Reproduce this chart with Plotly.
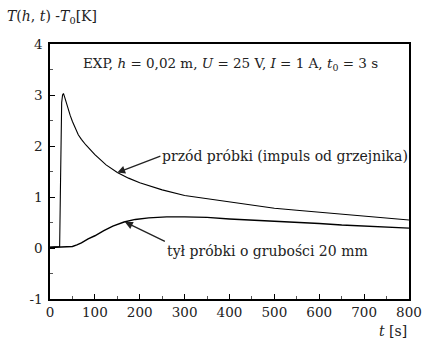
import plotly.graph_objects as go

# front of sample (heater impulse)
t_front = [0, 10, 20, 21.5, 23, 24.5, 26, 28, 30, 33, 36, 40, 45, 50, 56, 63, 70, 80, 100,
           125, 150, 175, 200, 250, 300, 350, 400, 450, 500, 550, 600, 650, 700, 750, 800]
T_front = [0.02, 0.02, 0.02, 0.03, 1.0, 2.2, 2.85, 3.0, 3.03, 2.95, 2.85, 2.74, 2.6, 2.48,
           2.35, 2.22, 2.13, 2.02, 1.83, 1.63, 1.48, 1.37, 1.28, 1.14, 1.03, 0.97, 0.91,
           0.84, 0.78, 0.74, 0.70, 0.66, 0.62, 0.58, 0.55]

# back of sample, 20 mm thick
t_back = [0, 20, 40, 50, 60, 70, 85, 100, 120, 140, 165, 190, 220, 260, 300, 350, 400,
          450, 500, 550, 600, 650, 700, 750, 800]
T_back = [0.01, 0.02, 0.02, 0.03, 0.06, 0.1, 0.18, 0.24, 0.34, 0.43, 0.51, 0.56, 0.59,
          0.61, 0.61, 0.6, 0.57, 0.55, 0.52, 0.5, 0.48, 0.45, 0.43, 0.41, 0.39]

x_ticks = [0, 100, 200, 300, 400, 500, 600, 700, 800]
y_ticks = [-1, 0, 1, 2, 3, 4]
y_tick_text = ["-1", "0", "1", "2", "3", "4"]

FONT = "DejaVu Serif"

fig = go.Figure()
fig.add_trace(go.Scatter(x=t_front, y=T_front, mode="lines",
                         line=dict(color="black", width=1.1), showlegend=False))
fig.add_trace(go.Scatter(x=t_back, y=T_back, mode="lines",
                         line=dict(color="black", width=1.4), showlegend=False))

axis_common = dict(showgrid=False, zeroline=False, ticks="inside", ticklen=5,
                   tickcolor="black", tickwidth=1.3, showline=True, linecolor="black",
                   linewidth=1.5, mirror=True,
                   tickfont=dict(family=FONT, size=13.5, color="#222"))

fig.update_xaxes(range=[0, 800], tickvals=x_ticks,
                 minor=dict(dtick=50, ticklen=3, ticks="inside", tickcolor="#555", tickwidth=1),
                 **axis_common)
fig.update_yaxes(range=[-1, 4], tickvals=y_ticks, ticktext=y_tick_text, ticklabelstandoff=3,
                 minor=dict(dtick=0.5, ticklen=3, ticks="inside", tickcolor="#555", tickwidth=1),
                 **axis_common)

ann_font = dict(family=FONT, size=14, color="#222")
fig.add_annotation(xref="paper", yref="paper", x=-0.125, y=1.105, xanchor="left",
                   yanchor="middle", showarrow=False, font=ann_font,
                   text="<i>T</i>(<i>h</i>, <i>t</i>) -<i>T</i><sub>0</sub>[K]")
fig.add_annotation(xref="paper", yref="paper", x=1.0, y=-0.125, xanchor="right",
                   yanchor="middle", showarrow=False, font=ann_font,
                   text="<i>t</i> [s]")
fig.add_annotation(x=70, y=3.6, xanchor="left", yanchor="middle", showarrow=False,
                   font=dict(family=FONT, size=13.5, color="#222"),
                   text="EXP, <i>h</i> = 0,02 m, <i>U</i> = 25 V, <i>I</i> = 1 A, <i>t</i><sub>0</sub> = 3 s")
# labels with arrows pointing to the curves
fig.add_annotation(x=150, y=1.48, ax=246, ay=1.8, axref="x", ayref="y",
                   xanchor="left", yanchor="middle",
                   font=ann_font, text="przód próbki (impuls od grzejnika)",
                   showarrow=True, arrowhead=2, arrowsize=1.2, arrowwidth=1.3,
                   arrowcolor="#222")
fig.add_annotation(x=167, y=0.51, ax=256, ay=0.13, axref="x", ayref="y",
                   xanchor="left", yanchor="top",
                   font=ann_font, text="tył próbki o grubości 20 mm",
                   showarrow=True, arrowhead=2, arrowsize=1.2, arrowwidth=1.3,
                   arrowcolor="#222")

fig.update_layout(width=433, height=339, margin=dict(l=50, r=11, t=44, b=40),
                  plot_bgcolor="white", paper_bgcolor="white")

fig.write_html("out.html")
